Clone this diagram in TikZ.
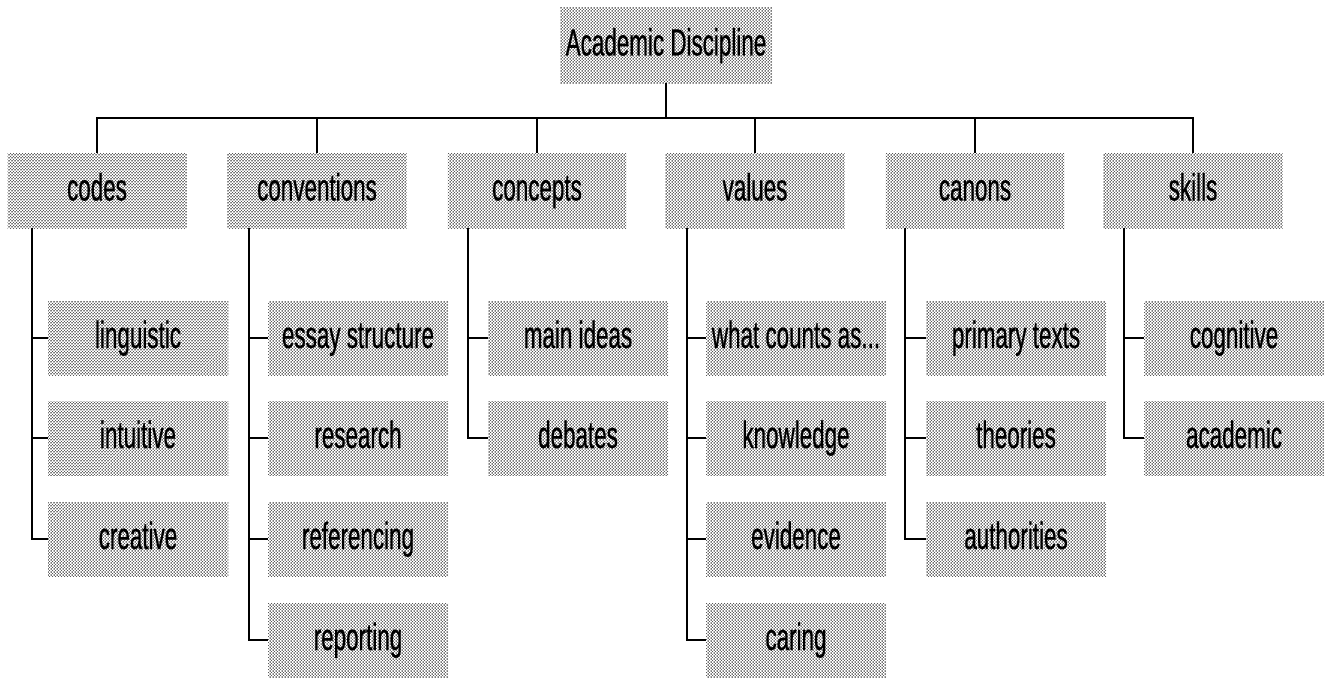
\documentclass[tikz,border=0pt]{standalone}
\usepackage{fontspec}
\setmainfont{Liberation Sans}[FakeStretch=0.59, FakeBold=0.5]
\usetikzlibrary{patterns}
% halftone dot screen used as box fill
\pgfdeclarepatternformonly{halftone}{\pgfqpoint{-1pt}{-1pt}}{\pgfqpoint{4pt}{4pt}}{\pgfqpoint{3pt}{3pt}}{%
  \pgfpathcircle{\pgfqpoint{0pt}{0pt}}{0.5pt}%
  \pgfpathcircle{\pgfqpoint{1.5pt}{1.5pt}}{0.5pt}%
  \pgfpathcircle{\pgfqpoint{3pt}{0pt}}{0.5pt}%
  \pgfpathcircle{\pgfqpoint{0pt}{3pt}}{0.5pt}%
  \pgfpathcircle{\pgfqpoint{3pt}{3pt}}{0.5pt}%
  \pgfusepath{fill}}
\begin{document}
\begin{tikzpicture}[x=1pt,y=-1pt,
  shaded/.style={pattern=halftone, pattern color=black!80,
    inner sep=0pt, text=black, text height=27pt, text depth=7pt,
    font=\fontsize{38}{42}\selectfont},
  topbox/.style={shaded, minimum width=212pt, minimum height=75pt},
  catbox/.style={shaded, minimum width=179pt, minimum height=75pt},
  itembox/.style={shaded, minimum width=180pt, minimum height=74pt},
  link/.style={draw=black, line width=1.3pt}]
\useasboundingbox (0,0) rectangle (1329,677);

% root
\node[topbox] (top) at (666,45.5) {Academic Discipline};
\coordinate (bus) at (0,118);

% categories
\node[catbox] (c1) at (97,190.5)   {codes};
\node[catbox] (c2) at (317,190.5)  {conventions};
\node[catbox] (c3) at (537,190.5)  {concepts};
\node[catbox] (c4) at (755,190.5)  {values};
\node[catbox] (c5) at (975,190.5)  {canons};
\node[catbox] (c6) at (1193,190.5) {skills};

% items under each category
\node[itembox] (a1) at (138,338) {linguistic};
\node[itembox] (a2) at (138,438) {intuitive};
\node[itembox] (a3) at (138,539) {creative};

\node[itembox] (b1) at (358,338) {essay structure};
\node[itembox] (b2) at (358,438) {research};
\node[itembox] (b3) at (358,539) {referencing};
\node[itembox] (b4) at (358,640) {reporting};

\node[itembox] (d1) at (578,338) {main ideas};
\node[itembox] (d2) at (578,438) {debates};

\node[itembox] (e1) at (796,338) {what counts as...};
\node[itembox] (e2) at (796,438) {knowledge};
\node[itembox] (e3) at (796,539) {evidence};
\node[itembox] (e4) at (796,640) {caring};

\node[itembox] (f1) at (1016,338) {primary texts};
\node[itembox] (f2) at (1016,438) {theories};
\node[itembox] (f3) at (1016,539) {authorities};

\node[itembox] (g1) at (1234,338) {cognitive};
\node[itembox] (g2) at (1234,438) {academic};

% root to categories
\draw[link] (top.south) -- (top.south |- bus);
\draw[link] (c1.north) -- (c1.north |- bus) -- (c6.north |- bus) -- (c6.north);
\foreach \c in {c2,c3,c4,c5}
  \draw[link] (\c.north) -- (\c.north |- bus);

% spines
\coordinate (s1) at ([xshift=-65pt]c1.south);
\coordinate (s2) at ([xshift=-68pt]c2.south);
\coordinate (s3) at ([xshift=-69pt]c3.south);
\coordinate (s4) at ([xshift=-68pt]c4.south);
\coordinate (s5) at ([xshift=-70pt]c5.south);
\coordinate (s6) at ([xshift=-69pt]c6.south);

\draw[link] (s1) |- (a3.west);
\draw[link] (a1.west) -- (a1.west -| s1);
\draw[link] (a2.west) -- (a2.west -| s1);

\draw[link] (s2) |- (b4.west);
\foreach \n in {b1,b2,b3}
  \draw[link] (\n.west) -- (\n.west -| s2);

\draw[link] (s3) |- (d2.west);
\draw[link] (d1.west) -- (d1.west -| s3);

\draw[link] (s4) |- (e4.west);
\foreach \n in {e1,e2,e3}
  \draw[link] (\n.west) -- (\n.west -| s4);

\draw[link] (s5) |- (f3.west);
\foreach \n in {f1,f2}
  \draw[link] (\n.west) -- (\n.west -| s5);

\draw[link] (s6) |- (g2.west);
\draw[link] (g1.west) -- (g1.west -| s6);
\end{tikzpicture}
\end{document}
